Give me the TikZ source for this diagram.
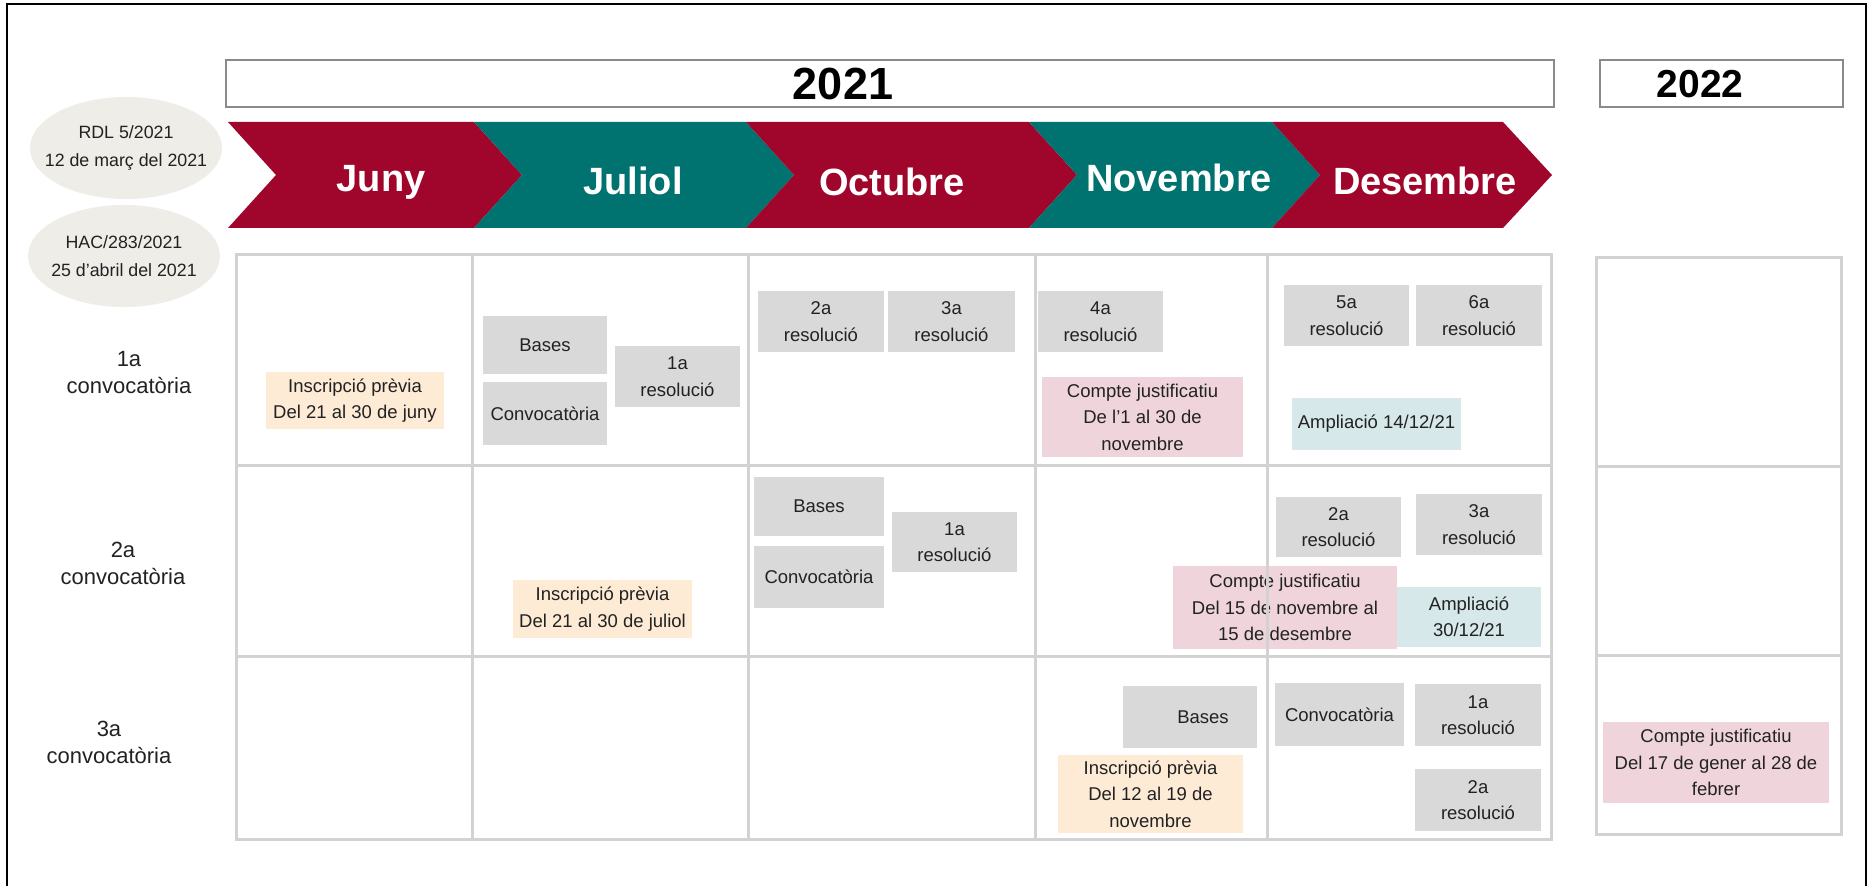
\documentclass[tikz,border=0pt]{standalone}
\usepackage{fontspec}
\setmainfont{Liberation Sans}
\usetikzlibrary{shapes.geometric}
\definecolor{cred}{HTML}{A0062C}
\definecolor{cteal}{HTML}{007270}
\definecolor{cgray}{HTML}{D9D9D9}
\definecolor{cpeach}{HTML}{FDEBD6}
\definecolor{cpink}{HTML}{EFD5DB}
\definecolor{cblue}{HTML}{D6E8EA}
\definecolor{cell}{HTML}{EEEDE8}
\definecolor{cgrid}{HTML}{D2D2D2}
\definecolor{cyear}{HTML}{8A8A8A}
\definecolor{ctext}{HTML}{222222}
\newcommand\bx[7]{\node[#2, minimum width={(#5-#3)*0.5pt}, minimum height={(#6-#4)*0.5pt}] (#1) at ({(#3+#5)/2},{(#4+#6)/2}) {#7};}
\tikzset{
  boxbase/.style={inner sep=0pt, align=center, text=ctext, font=\fontsize{9.25}{13.25}\selectfont},
  gbox/.style={boxbase, fill=cgray},
  pbox/.style={boxbase, fill=cpeach},
  kbox/.style={boxbase, fill=cpink},
  bbox/.style={boxbase, fill=cblue},
  month/.style={anchor=base, text=white, font=\bfseries\fontsize{19}{22}\selectfont},
  rowlab/.style={align=center, text=ctext, font=\fontsize{11}{13.5}\selectfont},
  ell/.style={ellipse, fill=cell, inner sep=0pt, minimum width=96pt, minimum height=51pt},
  elltext/.style={inner sep=0pt, align=center, text=ctext, font=\fontsize{8.9}{14}\selectfont},
  gridline/.style={draw=cgrid, line width=1.5pt},
  yearbox/.style={draw=cyear, line width=0.8pt},
}
\begin{document}
\begin{tikzpicture}[x=0.5pt,y=-0.5pt]
\useasboundingbox (0,0) rectangle (1871,886);
\fill[white] (0,0) rectangle (1871,886);
% frame
\draw[line width=1pt] (7,900) -- (7,4) -- (1866,4) -- (1866,900);
% year boxes
\draw[yearbox] (226,60) rectangle (1554,107);
\draw[yearbox] (1600,60) rectangle (1843,107);
\node[anchor=base, font=\bfseries\fontsize{22.5}{27}\selectfont] (y2021) at (843,100) {2021};
\node[anchor=base, font=\bfseries\fontsize{19.5}{23}\selectfont] (y2022) at (1700,98) {2022};
% chevrons
\fill[cred]  (228,122) -- (474,122) -- (522,175) -- (474,228) -- (228,228) -- (276,175) -- cycle;
\fill[cteal] (474,122) -- (746,122) -- (794,175) -- (746,228) -- (474,228) -- (522,175) -- cycle;
\fill[cred]  (746,122) -- (1029,122) -- (1077,175) -- (1029,228) -- (746,228) -- (794,175) -- cycle;
\fill[cteal] (1029,122) -- (1272,122) -- (1320,175) -- (1272,228) -- (1029,228) -- (1077,175) -- cycle;
\fill[cred]  (1272,122) -- (1503,122) -- (1552,175) -- (1503,228) -- (1272,228) -- (1320,175) -- cycle;
\node[month] (mjuny) at (381,192) {Juny};
\node[month] (mjuliol) at (633,195) {Juliol};
\node[month] (moctubre) at (892,196) {Octubre};
\node[month] (mnovembre) at (1179,192) {Novembre};
\node[month] (mdesembre) at (1425,195) {Desembre};
% ellipses
\node[ell] (e1) at (126,148) {};
\node[ell] (e2) at (124,256) {};
\node[elltext] (e1t) at (e1.center) {RDL 5/2021\\12 de març del 2021};
\node[elltext] (e2t) at (e2.center) {HAC/283/2021\\25 d'abril del 2021};
% row labels
\node[rowlab] (r1) at (129,373) {1a\\convocatòria};
\node[rowlab] (r2) at (123,563) {2a\\convocatòria};
\node[rowlab] (r3) at (109,742) {3a\\convocatòria};
% gray boxes
\bx{g1}{gbox}{483}{316}{607}{374}{Bases}
\bx{g2}{gbox}{483}{382}{607}{445}{Convocatòria}
\bx{g3}{gbox}{615}{346}{740}{407}{1a\\resolució}
\bx{g4}{gbox}{758}{291}{884}{352}{2a\\resolució}
\bx{g5}{gbox}{888}{291}{1015}{352}{3a\\resolució}
\bx{g6}{gbox}{1038}{291}{1163}{352}{4a\\resolució}
\bx{g7}{gbox}{1284}{285}{1409}{346}{5a\\resolució}
\bx{g8}{gbox}{1416}{285}{1542}{346}{6a\\resolució}
\bx{g9}{gbox}{754}{477}{884}{536}{Bases}
\bx{g10}{gbox}{754}{546}{884}{608}{Convocatòria}
\bx{g11}{gbox}{892}{512}{1017}{572}{1a\\resolució}
\bx{g12}{gbox}{1276}{497}{1401}{557}{2a\\resolució}
\bx{g13}{gbox}{1416}{494}{1542}{555}{3a\\resolució}
\bx{g14}{gbox}{1123}{686}{1257}{748}{\hspace*{13pt}Bases}
\bx{g15}{gbox}{1275}{683}{1404}{746}{Convocatòria}
\bx{g16}{gbox}{1415}{684}{1541}{746}{1a\\resolució}
\bx{g17}{gbox}{1415}{769}{1541}{831}{2a\\resolució}
% peach
\bx{p1}{pbox}{266}{372}{444}{429}{Inscripció prèvia\\Del 21 al 30 de juny}
\bx{p2}{pbox}{513}{580}{692}{638}{Inscripció prèvia\\Del 21 al 30 de juliol}
\bx{p3}{pbox}{1058}{755}{1243}{833}{Inscripció prèvia\\Del 12 al 19 de\\novembre}
% pink
\bx{k1}{kbox}{1042}{377}{1243}{457}{Compte justificatiu\\De l’1 al 30 de\\novembre}
\bx{k2}{kbox}{1173}{566}{1397}{649}{Compte justificatiu\\Del 15 de novembre al\\15 de desembre}
\bx{k3}{kbox}{1603}{722}{1829}{803}{Compte justificatiu\\Del 17 de gener al 28 de\\febrer}
% blue
\bx{b1}{bbox}{1292}{398}{1461}{450}{Ampliació 14/12/21}
\bx{b2}{bbox}{1397}{587}{1541}{647}{Ampliació\\30/12/21}
% grid main
\draw[gridline] (236,255) rectangle (1551,839);
\foreach \xx in {472,748,1035,1267} \draw[gridline] (\xx,255) -- (\xx,839);
\foreach \yy in {466,656} \draw[gridline] (236,\yy) -- (1551,\yy);
% grid 2022
\draw[gridline] (1596,258) rectangle (1841,834);
\foreach \yy in {467,655} \draw[gridline] (1596,\yy) -- (1841,\yy);
\end{tikzpicture}
\end{document}
